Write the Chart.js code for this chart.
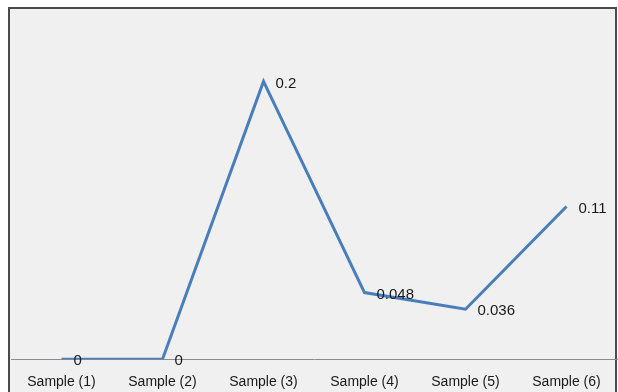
<!DOCTYPE html>
<html>
<head>
<meta charset="utf-8">
<script src="https://cdn.jsdelivr.net/npm/chart.js@4/dist/chart.umd.min.js"></script>
<style>
  html, body { margin: 0; padding: 0; background: #ffffff; overflow: hidden; }
  #wrap { position: relative; width: 618px; height: 392px; overflow: hidden; }
</style>
</head>
<body>
<div id="wrap"><canvas id="chart" width="618" height="406"></canvas></div>
<script>
// Sample categories and measured values
const categories = ['Sample (1)', 'Sample (2)', 'Sample (3)', 'Sample (4)', 'Sample (5)', 'Sample (6)'];
const values = [0, 0, 0.2, 0.048, 0.036, 0.11];
const valueLabels = ['0', '0', '0.2', '0.048', '0.036', '0.11'];

// Panel background and frame drawn behind the chart
const framePlugin = {
  id: 'frame',
  beforeDraw(chart) {
    const ctx = chart.ctx;
    ctx.save();
    ctx.fillStyle = '#ffffff';
    ctx.fillRect(0, 0, chart.width, chart.height);
    ctx.fillStyle = '#f0f0f0';
    ctx.fillRect(9, 8, 607, 420);
    ctx.strokeStyle = '#4a4a4a';
    ctx.lineWidth = 2;
    ctx.strokeRect(9, 8, 607, 420);
    ctx.restore();
  }
};

// Value labels placed to the right of each point
const valueLabelPlugin = {
  id: 'valueLabels',
  afterDatasetsDraw(chart) {
    const ctx = chart.ctx;
    const meta = chart.getDatasetMeta(0);
    ctx.save();
    ctx.font = '15px "Liberation Sans", Arial, sans-serif';
    ctx.fillStyle = '#1a1a1a';
    ctx.textAlign = 'left';
    ctx.textBaseline = 'middle';
    meta.data.forEach((pt, i) => {
      ctx.fillText(valueLabels[i], pt.x + 12, pt.y + 2);
    });
    ctx.restore();
  }
};

new Chart(document.getElementById('chart'), {
  type: 'line',
  data: {
    labels: categories,
    datasets: [{
      data: values,
      borderColor: '#4a7ebb',
      borderWidth: 3,
      pointRadius: 0,
      tension: 0,
      fill: false
    }]
  },
  options: {
    responsive: false,
    animation: false,
    layout: { padding: { left: 11, right: 1, top: 12, bottom: 0 } },
    plugins: { legend: { display: false }, tooltip: { enabled: false } },
    scales: {
      x: {
        offset: true,
        grid: { display: false, drawTicks: false },
        border: { display: true, color: '#8c8c8c', width: 1 },
        ticks: {
          color: '#1a1a1a',
          padding: 15,
          maxRotation: 0,
          autoSkip: false,
          font: { family: '"Liberation Sans", Arial, sans-serif', size: 14 }
        }
      },
      y: {
        display: false,
        min: 0,
        max: 0.25
      }
    }
  },
  plugins: [framePlugin, valueLabelPlugin]
});
</script>
</body>
</html>
